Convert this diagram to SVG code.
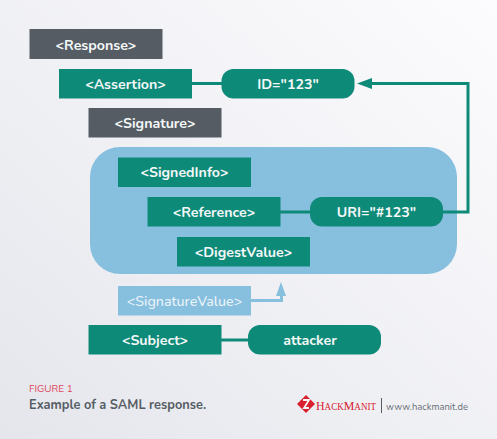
<svg xmlns="http://www.w3.org/2000/svg" width="497" height="439" viewBox="0 0 497 439">
<defs>
<linearGradient id="bg" x1="0" y1="1" x2="1" y2="0"><stop offset="0" stop-color="#e5e6ec"/><stop offset="1" stop-color="#fcfcfe"/></linearGradient>
</defs>
<style>
text{font-family:"Nunito","Lato","Open Sans",sans-serif;}
.l{font-size:14.2px;font-weight:700;fill:#f4f8f8;text-anchor:middle;}
.t{fill:#0e8a79;}.g{fill:#555c64;}.b{fill:#87bfdf;}
.c{fill:none;stroke:#0e8a79;stroke-width:3;}
</style>
<rect width="497" height="439" fill="url(#bg)"/>
<rect id="container" class="b" x="90" y="147" width="367" height="127" rx="30"/>
<g id="connectors">
<path class="c" d="M192 83.500H222"/>
<path class="c" d="M280 212H311"/>
<path class="c" d="M443 212H468V83.500H372"/>
<path d="M357 83.500L372 78V89Z" fill="#0e8a79"/>
<path class="c" d="M221 340H249"/>
<path d="M251 300.500H281.500V294" fill="none" stroke="#87bfdf" stroke-width="3"/>
<path d="M281 282L286 296H276Z" fill="#87bfdf"/>
</g>
<g id="response"><rect class="g" x="29.500" y="29" width="133" height="30"/><text class="l" x="96" y="49.500">&lt;Response&gt;</text></g>
<g id="assertion"><rect class="t" x="59" y="69" width="133" height="29.500"/><text class="l" x="125.500" y="88.500">&lt;Assertion&gt;</text></g>
<g id="id"><rect class="t" x="221.500" y="69" width="133" height="29.500" rx="12"/><text class="l" x="288" y="88.500">ID="123"</text></g>
<g id="signature"><rect class="g" x="88.500" y="108" width="133" height="29.500"/><text class="l" x="155" y="128">&lt;Signature&gt;</text></g>
<g id="signedinfo"><rect class="t" x="118" y="157.500" width="133" height="29.500"/><text class="l" x="184.500" y="177">&lt;SignedInfo&gt;</text></g>
<g id="reference"><rect class="t" x="147.500" y="197" width="133" height="29.500"/><text class="l" x="214" y="217">&lt;Reference&gt;</text></g>
<g id="uri"><rect class="t" x="310" y="197" width="133" height="29.500" rx="12"/><text class="l" x="376.500" y="217">URI="#123"</text></g>
<g id="digestvalue"><rect class="t" x="177" y="237" width="133" height="29.500"/><text class="l" x="243.500" y="257">&lt;DigestValue&gt;</text></g>
<g id="signaturevalue"><rect class="b" x="118" y="286" width="133" height="29.500"/><text class="l" x="184.500" y="306" style="font-weight:500;fill:#eaf3f9">&lt;SignatureValue&gt;</text></g>
<g id="subject"><rect class="t" x="88.500" y="325" width="133" height="29.500"/><text class="l" x="155" y="345">&lt;Subject&gt;</text></g>
<g id="attacker"><rect class="t" x="248" y="325" width="133" height="29.500" rx="12"/><text class="l" x="310" y="345">attacker</text></g>
<text x="29" y="392" font-size="10" fill="#e0475c">FIGURE 1</text>
<text x="29" y="409" font-size="12.800" font-weight="700" fill="#555c64">Example of a SAML response.</text>
<g id="logo">
<path d="M306 395L315 404L306 413L297 404Z" fill="#d9202e"/>
<path d="M303 400L309 400L304 408L309 408" fill="none" stroke="#f5f5f7" stroke-width="1.800"/>
<text x="316" y="410" font-size="9.500" textLength="60" lengthAdjust="spacingAndGlyphs" style="font-family:'Liberation Serif',serif" fill="#d9202e"><tspan font-size="12.500">H</tspan>ACK<tspan font-size="12.500">M</tspan>ANIT</text>
<path d="M381.500 398V413" stroke="#555c64" stroke-width="1"/>
<text x="386" y="410" font-size="10.500" textLength="82" lengthAdjust="spacingAndGlyphs" fill="#6a7078">www.hackmanit.de</text>
</g>
</svg>
